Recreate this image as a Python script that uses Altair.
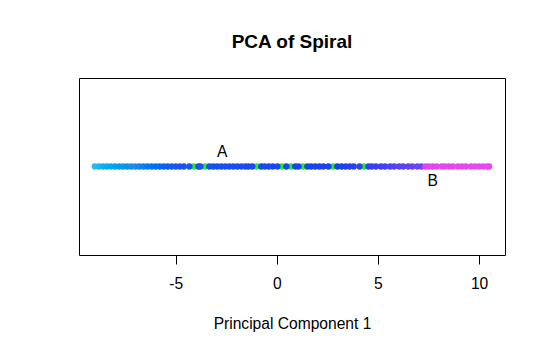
import altair as alt
import pandas as pd

pc1 = [-9.0, -8.8, -8.6, -8.4, -8.2, -8.0, -7.8, -7.6, -7.4, -7.2, -7.0, -6.8,
       -6.6, -6.4, -6.2, -6.0, -5.8, -5.6, -5.4, -5.2, -5.0, -4.8, -4.6, -4.32,
       -3.88, -3.78, -3.34, -3.15, -2.95, -2.75, -2.55, -2.35, -2.15, -1.95,
       -1.75, -1.55, -1.4, -1.21, -0.77, -0.6, -0.4, -0.2, 0.03, 0.47, 0.91,
       1.07, 1.51, 1.7, 1.9, 2.1, 2.3, 2.55, 2.99, 3.2, 3.4, 3.6, 3.8, 4.09,
       4.53, 4.7, 4.9, 5.15, 5.35, 5.6, 5.8, 6.05, 6.25, 6.5, 6.7,
       6.95, 7.15, 7.35, 7.5, 7.7, 7.9, 8.15, 8.3, 8.5, 8.7, 8.95, 9.15, 9.35, 9.6,
       9.8, 10.0, 10.2, 10.4, 10.5]
green_pc1 = [-4.1, -3.56, -0.99, 0.25, 0.69, 1.29, 2.77, 4.31]

label_text = ["A", "B"]
label_x = [-2.7, 7.7]
label_y = [0.16, -0.16]

color_stops = [-9.0, -7.0, -5.0, 3.0, 5.0, 7.2, 7.35, 10.5]
color_values = ["#2ABCF2", "#2088F0", "#1A55F0", "#1A40EE", "#3A40F0",
                "#7044F0", "#E244F0", "#E84AF0"]

df = pd.DataFrame({"pc1": pc1, "y": [0.0] * len(pc1)})
dg = pd.DataFrame({"pc1": green_pc1, "y": [0.0] * len(green_pc1)})
dl = pd.DataFrame({"label": label_text, "pc1": label_x, "y": label_y})

xscale = alt.Scale(domain=[-9.78, 11.28], nice=False, zero=False)
yscale = alt.Scale(domain=[-1, 1])

xenc = alt.X("pc1:Q", scale=xscale,
             axis=alt.Axis(values=[-5, 0, 5, 10], title="Principal Component 1",
                           labelExpr="'' + datum.value",
                           grid=False, domain=False, tickSize=9,
                           tickColor="#000000", labelFontSize=15.6,
                           labelColor="#000000", labelPadding=12,
                           labelFont="Liberation Sans", titleFont="Liberation Sans",
                           titleFontSize=15.6, titleFontWeight="normal",
                           titleColor="#000000", titlePadding=25))
yenc = alt.Y("y:Q", scale=yscale, axis=None)

green = alt.Chart(dg).mark_circle(size=40, opacity=1, color="#22EE22").encode(
    x=xenc, y=yenc)

pts = alt.Chart(df).mark_circle(size=40, opacity=1).encode(
    x=xenc, y=yenc,
    color=alt.Color("pc1:Q", scale=alt.Scale(domain=color_stops, range=color_values),
                    legend=None))

labels = alt.Chart(dl).mark_text(font="Liberation Sans", fontSize=15.6,
                                 color="#000000").encode(
    x=alt.X("pc1:Q", scale=xscale), y=alt.Y("y:Q", scale=yscale), text="label:N")

chart = alt.layer(green, pts, labels).properties(
    width=426, height=177,
    title=alt.TitleParams("PCA of Spiral", font="Liberation Sans", fontSize=19,
                          fontWeight="bold", anchor="middle", offset=26,
                          color="#000000"),
    autosize=alt.AutoSizeParams(type="none"),
    padding={"left": 79, "top": 78, "right": 41, "bottom": 98},
).configure(background="white").configure_view(stroke="#000000", strokeWidth=1)

chart.save("out.html", embed_options={"renderer": "svg", "actions": False})
